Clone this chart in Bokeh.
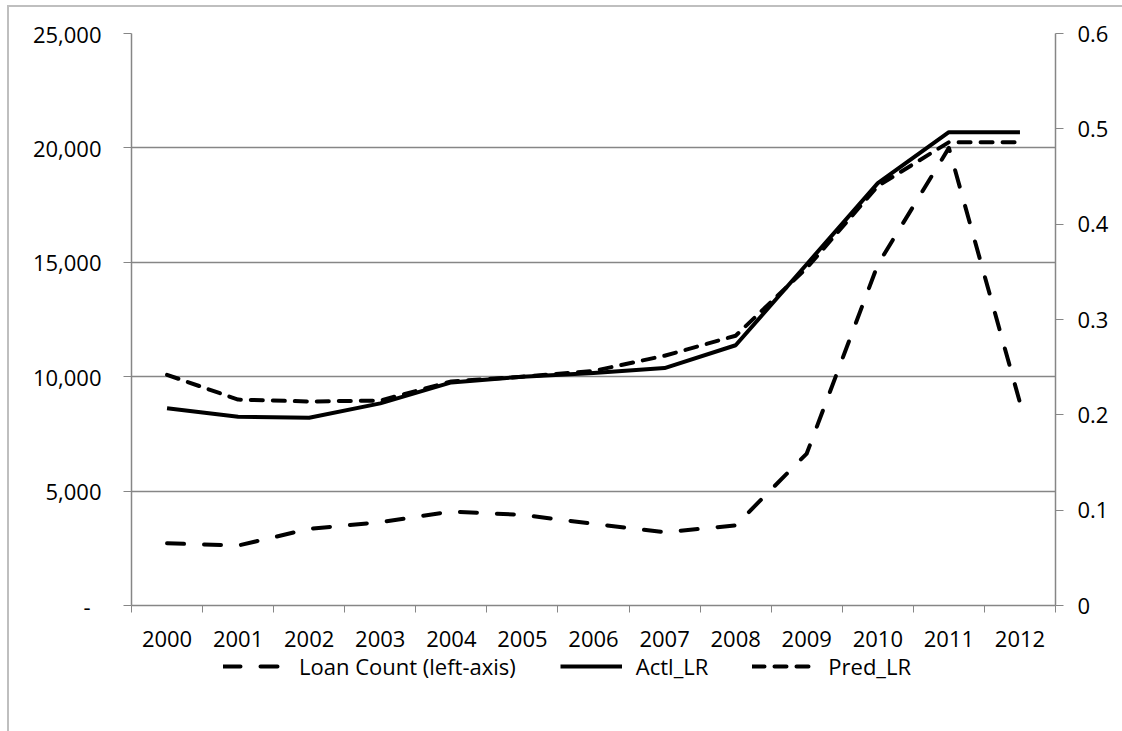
from bokeh.plotting import figure
from bokeh.layouts import column
from bokeh.models import (Range1d, LinearAxis, FixedTicker, Legend, LegendItem,
                          NumeralTickFormatter)
from bokeh.embed import file_html
from bokeh.resources import INLINE

years = ["2000", "2001", "2002", "2003", "2004", "2005", "2006",
         "2007", "2008", "2009", "2010", "2011", "2012"]
loan_count = [2720, 2620, 3350, 3640, 4110, 3960, 3570, 3200, 3500, 6640, 14900, 20000, 8870]
actl_lr = [0.207, 0.198, 0.197, 0.212, 0.234, 0.240, 0.244, 0.249, 0.273, 0.358, 0.443, 0.4965, 0.4965]
pred_lr = [0.242, 0.216, 0.214, 0.215, 0.235, 0.240, 0.246, 0.262, 0.283, 0.354, 0.440, 0.486, 0.486]
left_ticks = [0, 5000, 10000, 15000, 20000, 25000]
right_ticks = [0, 0.1, 0.2, 0.3, 0.4, 0.5, 0.6]
right_labels = ["0", "0.1", "0.2", "0.3", "0.4", "0.5", "0.6"]
series_names = ["Loan Count (left-axis)", "Actl_LR", "Pred_LR"]

FONT = "Open Sans"
FS = "22px"
GRAY = "#868686"

xc = [i + 0.5 for i in range(len(years))]
bounds = [float(i) for i in range(len(years) + 1)]

p = figure(width=1115, height=645, x_range=Range1d(0, len(years)),
           y_range=Range1d(0, 25000), output_backend="svg", toolbar_location=None,
           min_border_left=122, min_border_right=69, min_border_top=26,
           min_border_bottom=47, x_axis_location=None, y_axis_location=None)
p.outline_line_color = None
p.background_fill_color = "white"
p.border_fill_color = "white"
p.extra_y_ranges = {"right": Range1d(0, 0.6)}

# axes
xaxis = LinearAxis(ticker=FixedTicker(ticks=xc, minor_ticks=bounds))
xaxis.major_label_overrides = {c: y for c, y in zip(xc, years)}
xaxis.major_tick_out = 0
xaxis.major_tick_in = 0
xaxis.minor_tick_out = 7
xaxis.minor_tick_in = 0
xaxis.minor_tick_line_color = GRAY
xaxis.axis_line_color = GRAY
xaxis.major_label_standoff = 18
p.add_layout(xaxis, "below")

yaxis = LinearAxis(ticker=FixedTicker(ticks=left_ticks))
yaxis.formatter = NumeralTickFormatter(format="0,0")
yaxis.major_label_overrides = {0: "-\u2002"}
yaxis.major_tick_out = 8
yaxis.major_tick_in = 0
yaxis.minor_tick_line_color = None
yaxis.major_tick_line_color = GRAY
yaxis.axis_line_color = GRAY
yaxis.major_label_standoff = 22
p.add_layout(yaxis, "left")

raxis = LinearAxis(y_range_name="right", ticker=FixedTicker(ticks=right_ticks))
raxis.major_label_overrides = {t: l for t, l in zip(right_ticks, right_labels)}
raxis.major_tick_out = 8
raxis.major_tick_in = 0
raxis.minor_tick_line_color = None
raxis.major_tick_line_color = GRAY
raxis.axis_line_color = GRAY
raxis.major_label_standoff = 14
p.add_layout(raxis, "right")

for ax in (xaxis, yaxis, raxis):
    ax.major_label_text_font = FONT
    ax.major_label_text_font_size = FS
    ax.major_label_text_color = "black"
    ax.axis_line_width = 1.5

p.xgrid.visible = False
p.ygrid.ticker = FixedTicker(ticks=left_ticks)
p.ygrid.grid_line_color = GRAY
p.ygrid.grid_line_width = 1.5

styles = [dict(line_dash="17 20", line_cap="round"),
          dict(line_dash="solid", line_cap="butt"),
          dict(line_dash="12 10", line_cap="round")]

p.line(xc, loan_count, line_color="black", line_width=4, line_join="round", **styles[0])
p.line(xc, actl_lr, y_range_name="right", line_color="black", line_width=4,
       line_join="round", **styles[1])
p.line(xc, pred_lr, y_range_name="right", line_color="black", line_width=4,
       line_join="round", **styles[2])

# legend strip below the chart (its line renderers sit outside the visible range)
lg = figure(width=1115, height=79, x_range=Range1d(0, 1), y_range=Range1d(0, 1),
            output_backend="svg", toolbar_location=None, min_border=0,
            x_axis_location=None, y_axis_location=None)
lg.outline_line_color = None
lg.xgrid.visible = False
lg.ygrid.visible = False
items = []
for name, st in zip(series_names, styles):
    r = lg.line([5, 6], [5, 6], line_color="black", line_width=4, line_join="round", **st)
    items.append(LegendItem(label=name, renderers=[r]))
legend = Legend(items=items, orientation="horizontal", location=(90, 48))
legend.glyph_width = 62
legend.glyph_height = 20
legend.label_standoff = 14
legend.spacing = 44
legend.label_text_font = FONT
legend.label_text_font_size = FS
legend.label_text_color = "black"
legend.border_line_alpha = 0
legend.background_fill_alpha = 0
legend.padding = 2
legend.margin = 0
lg.add_layout(legend, "center")

layout = column(p, lg, spacing=0)
layout.margin = (5, 0, 0, 7)
layout.styles = {"border-left": "2px solid #bfbfbf", "border-top": "2px solid #bfbfbf"}

open("out.html", "w").write(file_html(layout, INLINE))
